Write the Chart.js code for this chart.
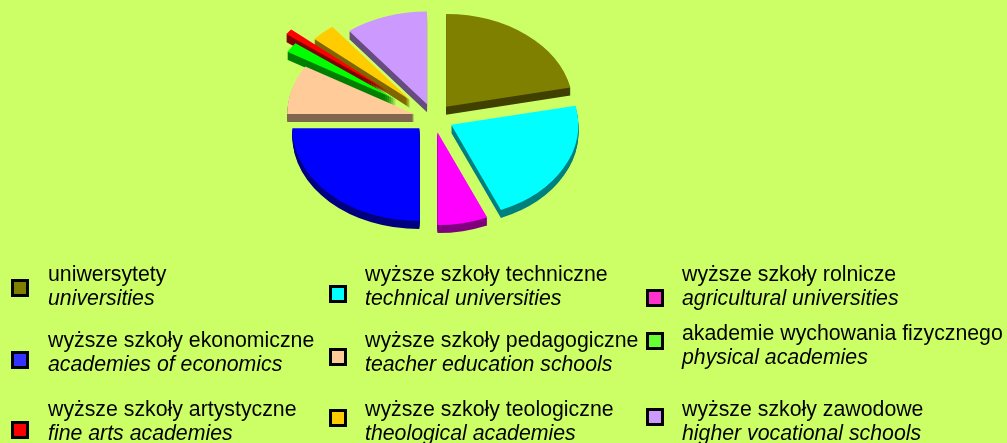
<!DOCTYPE html>
<html>
<head>
<meta charset="utf-8">
<script src="https://cdn.jsdelivr.net/npm/chart.js@4.4.1/dist/chart.umd.min.js"></script>
<style>
  html, body { margin: 0; padding: 0; background: #ccff66; }
  #wrap { position: relative; width: 1007px; height: 443px; overflow: hidden; }
  #chart { position: absolute; left: 0; top: 0; }
  .item { position: absolute; font-family: "Liberation Sans", Arial, sans-serif; font-size: 21.3px; line-height: 24px; color: #000; white-space: nowrap; }
  .item i { display: block; }
  .box { position: absolute; width: 12px; height: 12px; border: 3px solid #000; }
</style>
</head>
<body>
<div id="wrap">
  <canvas id="chart" width="1007" height="443"></canvas>
</div>
<script>
'use strict'

// share of each type of school, %
const categories = ['uniwersytety', 'wyższe szkoły techniczne', 'wyższe szkoły rolnicze',
  'wyższe szkoły ekonomiczne', 'wyższe szkoły pedagogiczne', 'akademie wychowania fizycznego',
  'wyższe szkoły artystyczne', 'wyższe szkoły teologiczne', 'wyższe szkoły zawodowe']
const categoriesEn = ['universities', 'technical universities', 'agricultural universities',
  'academies of economics', 'teacher education schools', 'physical academies',
  'fine arts academies', 'theological academies', 'higher vocational schools']
const shares = [21.7, 21.9, 6.4, 25.0, 8.6, 1.8, 1.0, 3.1, 10.5]

const sliceColors = ['#808000', '#00ffff', '#ff00ff', '#0000ff', '#ffcc99', '#00ff00', '#ff0000', '#ffcc00', '#cc99ff']
const boxColors = ['#808000', '#00ffff', '#ff33cc', '#3333ff', '#ffcc99', '#66ff33', '#ff0000', '#ffcc00', '#cc99ff']

// pie look
const explode = [20, 20, 20, 20, 20, 45, 60, 34, 20]
const tilt = 0.73
const depth = 8

// legend layout: [box x, box y, text x, text y]
const legendPos = [
  [11, 279, 48, 262], [329, 285, 365, 262], [646, 289, 682, 262],
  [11, 351, 48, 328], [329, 348, 365, 328], [646, 332, 682, 321],
  [11, 421, 48, 397], [329, 409, 365, 397], [646, 408, 682, 397]
]

const pie3d = {
  id: 'pie3d',
  beforeDatasetsDraw(chart) {
    const ctx = chart.ctx
    const arcs = chart.getDatasetMeta(0).data

    const drawSlice = (arc, i, dy, dark) => {
      const mid = (arc.startAngle + arc.endAngle) / 2
      ctx.save()
      ctx.translate(0, dy)
      ctx.translate(arc.x, arc.y)
      ctx.scale(1, tilt)
      ctx.translate(Math.cos(mid) * explode[i], Math.sin(mid) * explode[i])
      ctx.translate(-arc.x, -arc.y)
      if (dark) ctx.filter = 'brightness(50%)'
      arc.draw(ctx)
      ctx.restore()
    }

    // side walls first, then the top faces
    for (let d = depth; d > 0; d--) {
      arcs.forEach((arc, i) => drawSlice(arc, i, d, true))
    }
    arcs.forEach((arc, i) => drawSlice(arc, i, 0, false))
    return false
  }
}

const ctx = document.getElementById('chart')
new Chart(ctx, {
  type: 'pie',
  data: {
    labels: categories,
    datasets: [{
      data: shares,
      backgroundColor: sliceColors,
      borderWidth: 0,
      clip: false
    }]
  },
  options: {
    responsive: false,
    animation: false,
    events: [],
    radius: 127,
    layout: { padding: { left: 0, top: 0, right: 140, bottom: 207 } },
    plugins: {
      legend: { display: false },
      tooltip: { enabled: false }
    }
  },
  plugins: [pie3d]
})

// legend, two lines: Polish and English
const wrap = document.getElementById('wrap')
categories.forEach((name, i) => {
  const [bx, by, tx, ty] = legendPos[i]
  const box = document.createElement('div')
  box.className = 'box'
  box.style.left = bx + 'px'
  box.style.top = by + 'px'
  box.style.background = boxColors[i]
  wrap.appendChild(box)

  const item = document.createElement('div')
  item.className = 'item'
  item.style.left = tx + 'px'
  item.style.top = ty + 'px'
  item.textContent = name
  const en = document.createElement('i')
  en.textContent = categoriesEn[i]
  item.appendChild(en)
  wrap.appendChild(item)
})
</script>
</body>
</html>
